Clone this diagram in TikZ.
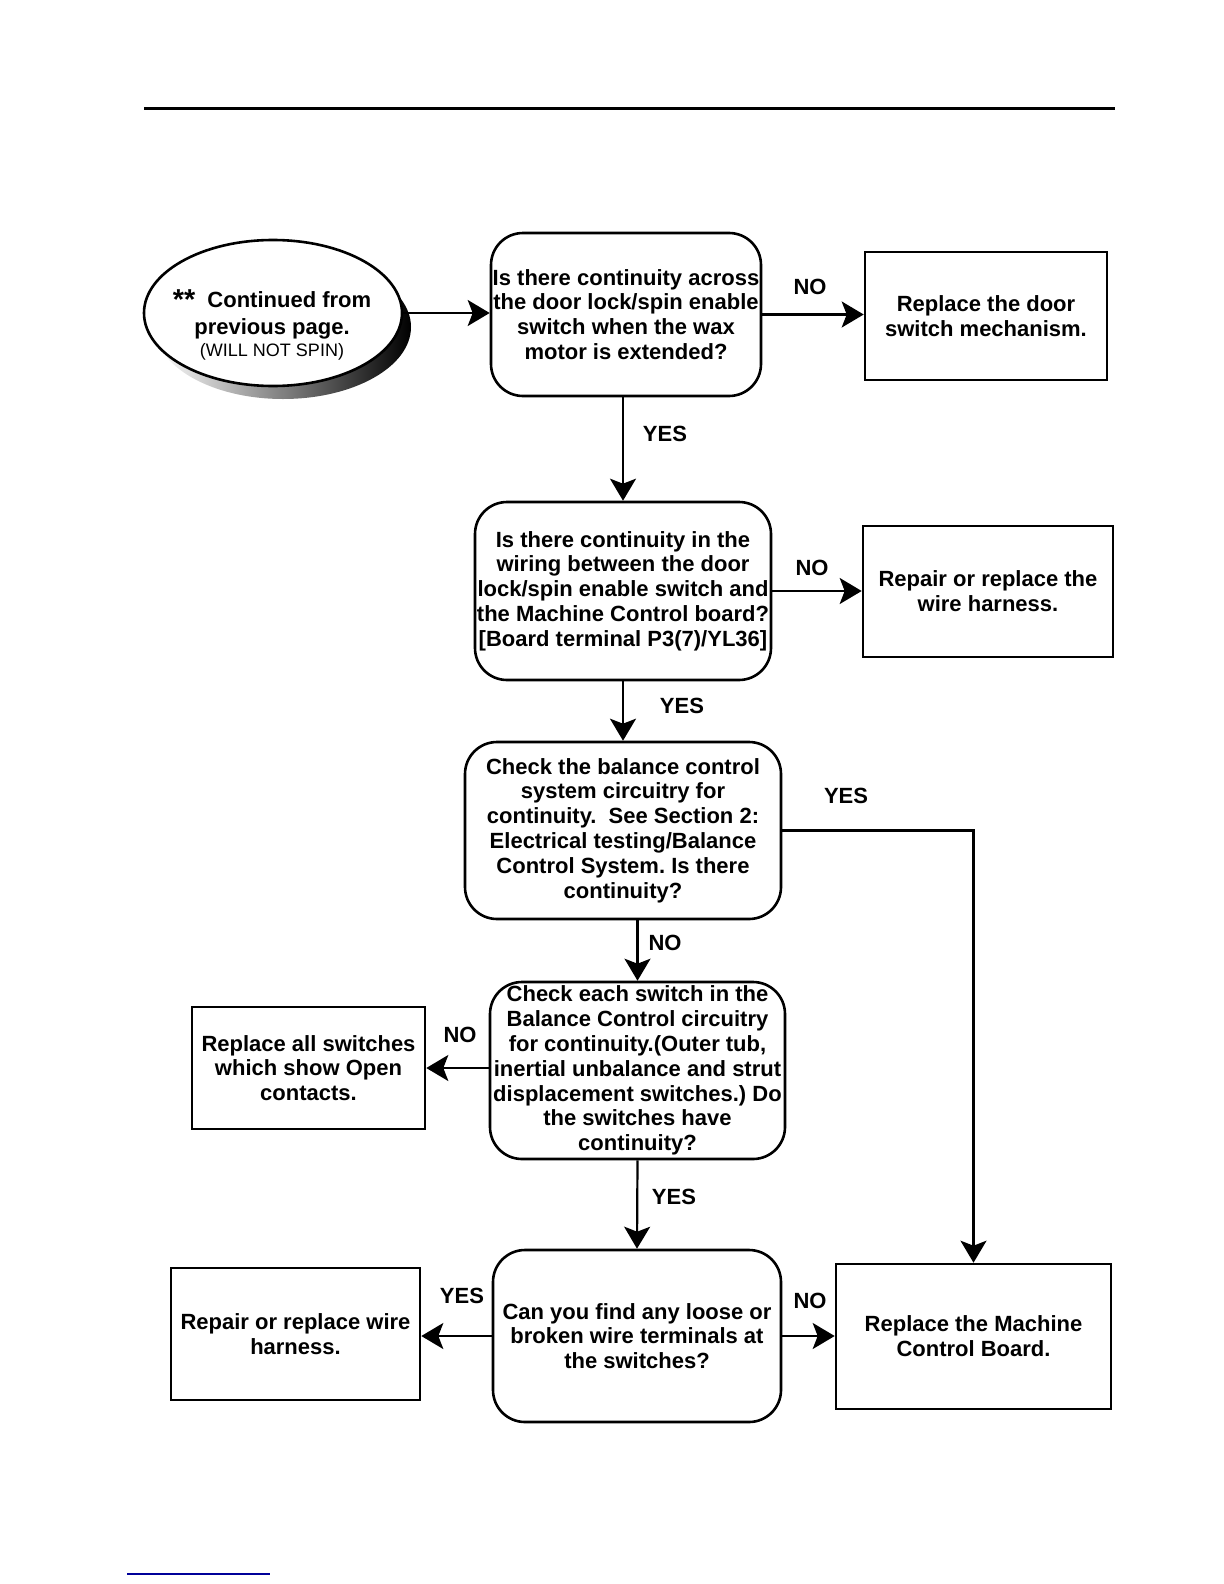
\documentclass[tikz,border=0pt]{standalone}
\usepackage{fontspec}
\setmainfont{Liberation Sans}
\usetikzlibrary{arrows.meta,shapes.geometric}
\frenchspacing

\begin{document}
\begin{tikzpicture}[
    x=0.5pt, y=-0.5pt,
    question/.style={draw, line width=1.3pt, rounded corners=16pt, align=center, inner sep=0pt, font=\fontsize{11}{12.4}\selectfont\bfseries},
    action/.style={draw, line width=1.3pt, align=center, inner sep=0pt, font=\fontsize{11}{12.4}\selectfont\bfseries},
    lbl/.style={font=\fontsize{11}{12.4}\selectfont\bfseries, inner sep=0pt},
    arrow/.style={-{Stealth[length=11pt, width=13pt, inset=2.5pt]}, line width=1.1pt}
  ]
    \useasboundingbox (0,0) rectangle (1224,1584);
    \draw[line width=1.5pt] (144,109) -- (1115,109);
    \draw[draw=blue!60!black, line width=0.6pt] (127,1574) -- (270,1574);

    % start
    \shade[left color=white, middle color=gray!50, right color=black] (283,327) ellipse [x radius=128, y radius=72];
    \node[draw, ellipse, fill=white, line width=1.3pt, minimum width=129pt, minimum height=73pt] (cont) at (273,313) {};
    \node[align=center, inner sep=0pt, font=\fontsize{11}{13.2}\selectfont\bfseries] (conttext) at (272,325) {{\Large\raisebox{-1pt}{**}}\ \ Continued from\\previous page.\\[-2pt]\fontsize{9}{10}\selectfont\mdseries (WILL NOT SPIN)};

    % questions
    \node[question, minimum width=135pt, minimum height=81.5pt] (q1) at (626,314.5) {Is there continuity across\\the door lock/spin enable\\switch when the wax\\motor is extended?};
    \node[question, minimum width=148pt, minimum height=89pt] (q2) at (623,591) {Is there continuity in the\\wiring between the door\\lock/spin enable switch and\\the Machine Control board?\\{[}Board terminal P3(7)/YL36{]}};
    \node[question, minimum width=158pt, minimum height=88.5pt] (q3) at (623,830.5) {Check the balance control\\system circuitry for\\continuity.\ \ See Section 2:\\Electrical testing/Balance\\Control System. Is there\\continuity?};
    \node[question, minimum width=147.5pt, minimum height=88.5pt] (q4) at (637.5,1070.5) {Check each switch in the\\Balance Control circuitry\\for continuity.(Outer tub,\\inertial unbalance and strut\\displacement switches.) Do\\the switches have\\continuity?};
    \node[question, minimum width=144pt, minimum height=86pt] (q5) at (637,1336) {Can you find any loose or\\broken wire terminals at\\the switches?};

    % actions
    \node[action, minimum width=121pt, minimum height=64pt] (r1) at (986,316) {Replace the door\\switch mechanism.};
    \node[action, minimum width=125pt, minimum height=65.5pt] (r2) at (988,591.5) {Repair or replace the\\wire harness.};
    \node[action, minimum width=116.5pt, minimum height=61pt] (l4) at (308.5,1068) {Replace all switches\\which show Open\\contacts.};
    \node[action, minimum width=124.5pt, minimum height=66pt] (l5) at (295.5,1334) {Repair or replace wire\\harness.};
    \node[action, minimum width=137.5pt, minimum height=72.5pt] (r5) at (973.5,1336.5) {Replace the Machine\\Control Board.};

    % labels
    \node[lbl] (no1) at (810,287) {NO};
    \node[lbl] (yes1) at (665,434) {YES};
    \node[lbl] (no2) at (812,568) {NO};
    \node[lbl] (yes2) at (682,706) {YES};
    \node[lbl] (yes3) at (846,796) {YES};
    \node[lbl] (no3) at (665,943) {NO};
    \node[lbl] (no4) at (460,1035) {NO};
    \node[lbl] (yes4) at (674,1197) {YES};
    \node[lbl] (yes5) at (462,1296) {YES};
    \node[lbl] (no5) at (810,1301) {NO};

    \draw[arrow] (cont.east) -- (cont.east -| q1.west);
    \draw[arrow] (q1.east) -- (q1.east -| r1.west);
    \draw[arrow] (q2.north |- q1.south) -- (q2.north);
    \draw[arrow] (q2.east) -- (q2.east -| r2.west);
    \draw[arrow] (q2.south) -- (q3.north);
    \draw[arrow] (q3.east) -| (r5.north);
    \draw[arrow] (q4.north |- q3.south) -- (q4.north);
    \draw[arrow] (l4.east -| q4.west) -- (l4.east);
    \draw[arrow] (q4.south) -- (q5.north);
    \draw[arrow] (q5.west) -- (q5.west -| l5.east);
    \draw[arrow] (q5.east) -- (q5.east -| r5.west);
  \end{tikzpicture}
\end{document}
